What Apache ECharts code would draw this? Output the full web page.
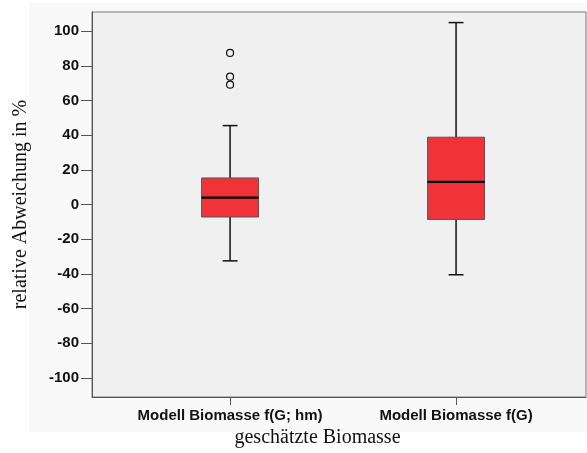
<!DOCTYPE html>
<html>
<head>
<meta charset="utf-8">
<script src="https://cdn.jsdelivr.net/npm/echarts@6/dist/echarts.min.js"></script>
<style>html,body{margin:0;padding:0;background:#fff}#c{width:587px;height:453px}</style>
</head>
<body>
<div id="c"></div>
<script>
// ---- data ----
const categories = ['Modell Biomasse f(G; hm)', 'Modell Biomasse f(G)'];
const categoryPos = [1, 2];
const whiskerLow = [-32.5, -40.5];
const q1 = [-7.2, -8.6];
const median = [4.0, 13.0];
const q3 = [15.3, 38.8];
const whiskerHigh = [45.5, 104.9];
const outliers = [[1, 87.4], [1, 73.7], [1, 69.1]];
const yTicks = [-100, -80, -60, -40, -20, 0, 20, 40, 60, 80, 100];
const xTitle = 'geschätzte Biomasse';
const yTitle = 'relative Abweichung in %';

const boxData = categoryPos.map((p, i) => [p, whiskerLow[i], q1[i], median[i], q3[i], whiskerHigh[i]]);

const chart = echarts.init(document.getElementById('c'), null, {renderer: 'canvas'});
const BOX_W = 0.252, CAP_W = 0.066;
chart.setOption({
  animation: false,
  backgroundColor: '#ffffff',
  graphic: [{
    type: 'rect', z: -10, silent: true,
    shape: {x: 29, y: 3, width: 558, height: 429},
    style: {fill: '#f9f9f9'}
  }],
  grid: {
    left: 92, top: 12, right: 1, bottom: 54,
    show: true, backgroundColor: '#f0f0f0', borderColor: '#7a7a7a', borderWidth: 1
  },
  xAxis: {
    type: 'value', min: 0.389, max: 2.575,
    splitLine: {show: false},
    axisLine: {show: true, onZero: false, lineStyle: {color: '#555', width: 1}},
    axisTick: {show: true, customValues: categoryPos, length: 8, lineStyle: {color: '#555'}},
    axisLabel: {
      customValues: categoryPos, margin: 11,
      formatter: v => categories[categoryPos.indexOf(Math.round(v))] || '',
      fontFamily: 'Liberation Sans, Arial, sans-serif', fontSize: 15, fontWeight: 'bold', color: '#111'
    },
    name: xTitle, nameLocation: 'middle', nameGap: 31,
    nameTextStyle: {fontFamily: 'Liberation Serif, Times New Roman, serif', fontSize: 20, color: '#111', padding: [0, 43, 0, 0]}
  },
  yAxis: {
    type: 'value', min: -111, max: 111,
    splitLine: {show: false},
    axisLine: {show: true, onZero: false, lineStyle: {color: '#555', width: 1}},
    axisTick: {show: true, customValues: yTicks, length: 11, lineStyle: {color: '#555'}},
    axisLabel: {
      customValues: yTicks, margin: 13,
      fontFamily: 'Liberation Sans, Arial, sans-serif', fontSize: 15, fontWeight: 'bold', color: '#111'
    },
    name: yTitle, nameLocation: 'middle', nameGap: 61, nameRotate: 90,
    nameTextStyle: {fontFamily: 'Liberation Serif, Times New Roman, serif', fontSize: 20, color: '#111'}
  },
  series: [{
    type: 'custom',
    data: boxData,
    encode: {x: 0, y: [1, 2, 3, 4, 5]},
    renderItem: function (params, api) {
      const x = api.value(0);
      const lo = api.coord([x, api.value(1)]);
      const b1 = api.coord([x, api.value(2)]);
      const md = api.coord([x, api.value(3)]);
      const b3 = api.coord([x, api.value(4)]);
      const hi = api.coord([x, api.value(5)]);
      const hw = api.size([BOX_W, 0])[0] / 2;
      const cw = api.size([CAP_W, 0])[0] / 2;
      const cx = lo[0];
      const ls = {stroke: '#111', lineWidth: 1.5};
      return {
        type: 'group',
        children: [
          {type: 'line', shape: {x1: cx, y1: lo[1], x2: cx, y2: b1[1]}, style: ls},
          {type: 'line', shape: {x1: cx, y1: b3[1], x2: cx, y2: hi[1]}, style: ls},
          {type: 'line', shape: {x1: cx - cw, y1: lo[1], x2: cx + cw, y2: lo[1]}, style: ls},
          {type: 'line', shape: {x1: cx - cw, y1: hi[1], x2: cx + cw, y2: hi[1]}, style: ls},
          {type: 'rect', shape: {x: cx - hw, y: b3[1], width: 2 * hw, height: b1[1] - b3[1]},
            style: {fill: '#f03239', stroke: '#555', lineWidth: 1}},
          {type: 'line', shape: {x1: cx - hw, y1: md[1], x2: cx + hw, y2: md[1]},
            style: {stroke: '#000', lineWidth: 2.2}}
        ]
      };
    }
  }, {
    type: 'scatter',
    data: outliers,
    symbol: 'circle', symbolSize: 7,
    itemStyle: {color: '#f0f0f0', borderColor: '#111', borderWidth: 1.2, opacity: 1}
  }]
});
</script>
</body>
</html>
